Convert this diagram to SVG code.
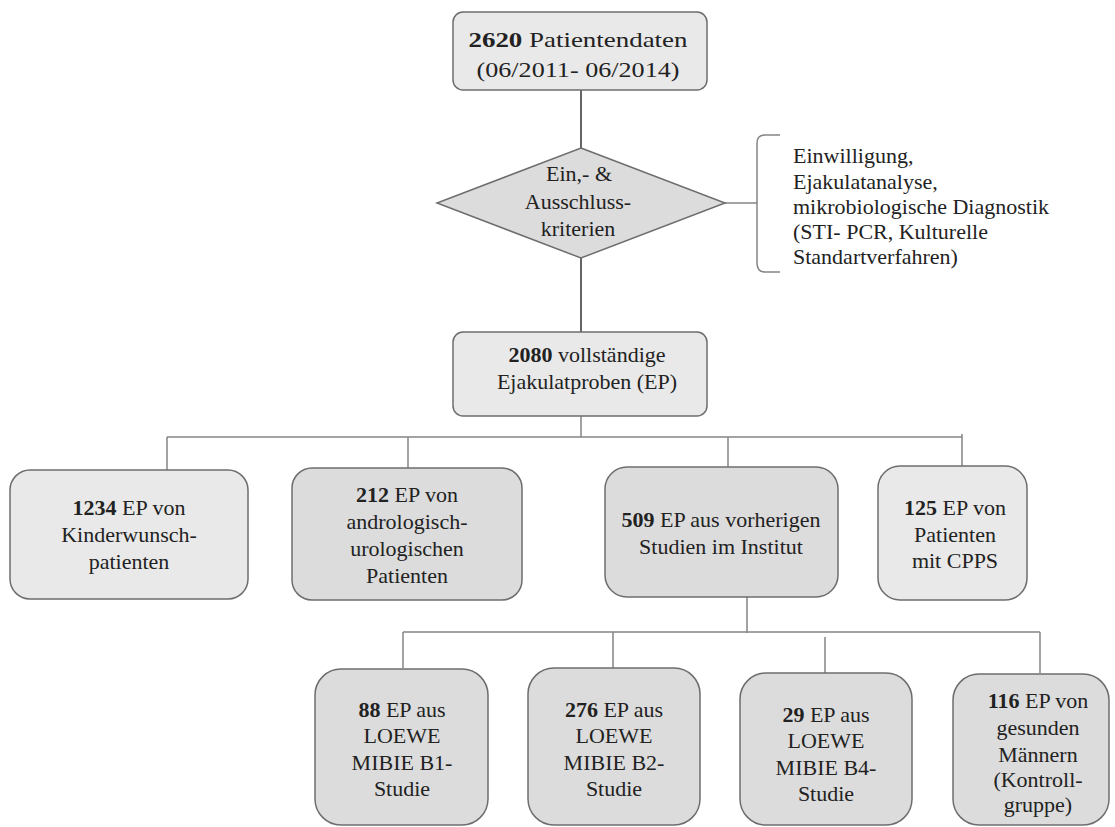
<svg xmlns="http://www.w3.org/2000/svg" width="1115" height="827" viewBox="0 0 1115 827">
<style>
text{font-size:22px;fill:#222;text-anchor:middle}
.b{font-weight:bold}
.lt{fill:#e9e9e9;stroke:#6d6d6d;stroke-width:1.5}
.dk{fill:#dcdcdc;stroke:#6d6d6d;stroke-width:1.5}
.c{fill:none;stroke:#858585;stroke-width:1.5}
.cd{fill:none;stroke:#333;stroke-width:1.5}
</style>
<rect width="1115" height="827" fill="#fff"/>
<g id="connectors">
<path class="cd" d="M581,90V148M581,258V332"/>
<path class="c" d="M725,203H757M780,135H765Q757,135 757,143V263Q757,272 765,272H780"/>
<path class="c" d="M581,416V437M167,437H962M167,437V470M408,437V468M728,437V467M962,434V466"/>
<path class="c" d="M747,597V633M403,632H1040M403,632V668M613,632V668M825,637V673M1040,632V673"/>
</g>
<g font-family="Liberation Serif, Times New Roman, serif">
<g id="n2620">
<rect class="lt" x="453" y="12" width="254" height="78" rx="10"/>
<text x="578" y="47" textLength="219" lengthAdjust="spacingAndGlyphs"><tspan class="b">2620</tspan> Patientendaten</text>
<text x="578" y="77" textLength="203" lengthAdjust="spacingAndGlyphs">(06/2011- 06/2014)</text>
</g>
<g id="kriterien">
<polygon class="dk" points="581,148 725,203 581,258 437,203"/>
<text x="579" y="181">Ein,- &amp;</text>
<text x="578" y="209">Ausschluss-</text>
<text x="578" y="236">kriterien</text>
</g>
<g id="bedingungen">
<text x="793" y="163" style="text-anchor:start">Einwilligung,</text>
<text x="793" y="189" style="text-anchor:start">Ejakulatanalyse,</text>
<text x="793" y="214" style="text-anchor:start">mikrobiologische Diagnostik</text>
<text x="793" y="239" style="text-anchor:start">(STI- PCR, Kulturelle</text>
<text x="793" y="264" style="text-anchor:start">Standartverfahren)</text>
</g>
<g id="n2080">
<rect class="lt" x="453" y="332" width="254" height="84" rx="10"/>
<text x="587" y="362"><tspan class="b">2080</tspan> vollständige</text>
<text x="587" y="389">Ejakulatproben (EP)</text>
</g>
<g id="n1234">
<rect class="lt" x="10" y="470" width="238" height="129" rx="20"/>
<text x="129" y="515"><tspan class="b">1234</tspan> EP von</text>
<text x="129" y="542">Kinderwunsch-</text>
<text x="129" y="569">patienten</text>
</g>
<g id="n212">
<rect class="dk" x="292" y="468" width="230" height="132" rx="20"/>
<text x="407" y="502"><tspan class="b">212</tspan> EP von</text>
<text x="407" y="529">andrologisch-</text>
<text x="407" y="556">urologischen</text>
<text x="407" y="583">Patienten</text>
</g>
<g id="n509">
<rect class="dk" x="605" y="467" width="233" height="130" rx="22"/>
<text x="721" y="527"><tspan class="b">509</tspan> EP aus vorherigen</text>
<text x="721" y="554">Studien im Institut</text>
</g>
<g id="n125">
<rect class="lt" x="878" y="466" width="149" height="134" rx="22"/>
<text x="955" y="515"><tspan class="b">125</tspan> EP von</text>
<text x="955" y="542">Patienten</text>
<text x="955" y="568">mit CPPS</text>
</g>
<g id="n88">
<rect class="dk" x="315" y="669" width="173" height="156" rx="26"/>
<text x="402" y="717"><tspan class="b">88</tspan> EP aus</text>
<text x="402" y="743">LOEWE</text>
<text x="402" y="770">MIBIE B1-</text>
<text x="402" y="796">Studie</text>
</g>
<g id="n276">
<rect class="dk" x="528" y="668" width="172" height="157" rx="26"/>
<text x="614" y="717"><tspan class="b">276</tspan> EP aus</text>
<text x="614" y="743">LOEWE</text>
<text x="614" y="770">MIBIE B2-</text>
<text x="614" y="796">Studie</text>
</g>
<g id="n29">
<rect class="dk" x="740" y="673" width="172" height="152" rx="26"/>
<text x="826" y="722"><tspan class="b">29</tspan> EP aus</text>
<text x="826" y="748">LOEWE</text>
<text x="826" y="775">MIBIE B4-</text>
<text x="826" y="801">Studie</text>
</g>
<g id="n116">
<rect class="dk" x="953" y="674" width="156" height="151" rx="26"/>
<text x="1038" y="708"><tspan class="b">116</tspan> EP von</text>
<text x="1038" y="735">gesunden</text>
<text x="1038" y="762">Männern</text>
<text x="1038" y="787">(Kontroll-</text>
<text x="1038" y="812">gruppe)</text>
</g>
</g>
</svg>
